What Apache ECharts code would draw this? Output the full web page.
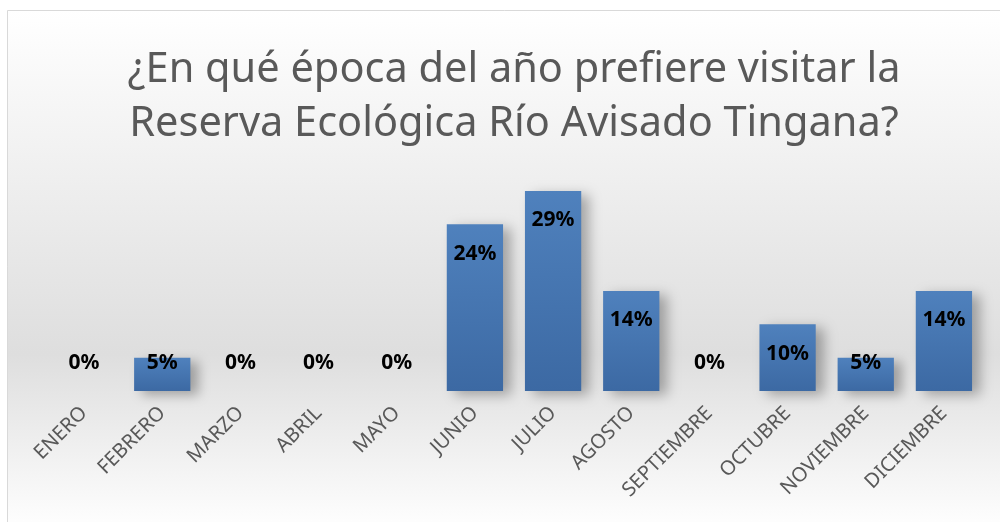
<!DOCTYPE html>
<html>
<head>
<meta charset="utf-8">
<script src="https://cdn.jsdelivr.net/npm/echarts@6/dist/echarts.min.js"></script>
<style>html,body{margin:0;padding:0;background:#fff}#c{width:1000px;height:522px}</style>
</head>
<body>
<div id="c"></div>
<script>
const titleText = '¿En qué época del año prefiere visitar la\nReserva Ecológica Río Avisado Tingana?';
const categories = ['ENERO','FEBRERO','MARZO','ABRIL','MAYO','JUNIO','JULIO','AGOSTO','SEPTIEMBRE','OCTUBRE','NOVIEMBRE','DICIEMBRE'];
const values = [0, 4.76, 0, 0, 0, 23.81, 28.57, 14.29, 0, 9.52, 4.76, 14.29];

const chart = echarts.init(document.getElementById('c'));
const data = values.map(v => {
  const small = v < 8;
  return {
    value: v,
    label: small ? { position: 'insideBottom', distance: 17 } : { position: 'insideTop', distance: 19 }
  };
});
chart.setOption({
  animation: false,
  graphic: [{
    type: 'rect', z: -10, silent: true,
    shape: { x: 7.5, y: 10.5, width: 1000, height: 520 },
    style: {
      fill: new echarts.graphic.LinearGradient(0, 0, 0, 1, [
        { offset: 0, color: '#ffffff' },
        { offset: 0.66, color: '#dedede' },
        { offset: 1, color: '#ffffff' }
      ]),
      stroke: '#d9d9d9', lineWidth: 1
    }
  }],
  title: {
    text: titleText,
    left: 509, top: 38, textAlign: 'center',
    textStyle: { fontFamily: 'Noto Sans', fontSize: 41.5, fontWeight: 'normal', color: '#595959', lineHeight: 54 }
  },
  grid: { left: 45, right: 17, top: 181, bottom: 131, containLabel: false },
  xAxis: {
    type: 'category', data: categories,
    axisLine: { show: false }, axisTick: { show: false },
    axisLabel: { rotate: 45, margin: 19, color: '#595959', fontFamily: 'Noto Sans', fontSize: 20, interval: 0 }
  },
  yAxis: { type: 'value', min: 0, max: 30, show: false, splitLine: { show: false } },
  series: [{
    type: 'bar', data: data, barCategoryGap: '28%',
    itemStyle: {
      color: new echarts.graphic.LinearGradient(0, 0, 0, 1, [
        { offset: 0, color: '#4f81bd' },
        { offset: 1, color: '#3c69a3' }
      ]),
      shadowBlur: 12, shadowOffsetX: 8, shadowOffsetY: 4, shadowColor: 'rgba(0,0,0,0.3)'
    },
    label: {
      show: true, color: '#000', fontFamily: 'Noto Sans', fontWeight: 'bold', fontSize: 21,
      formatter: p => Math.round(p.value) + '%'
    }
  }]
});
</script>
</body>
</html>
